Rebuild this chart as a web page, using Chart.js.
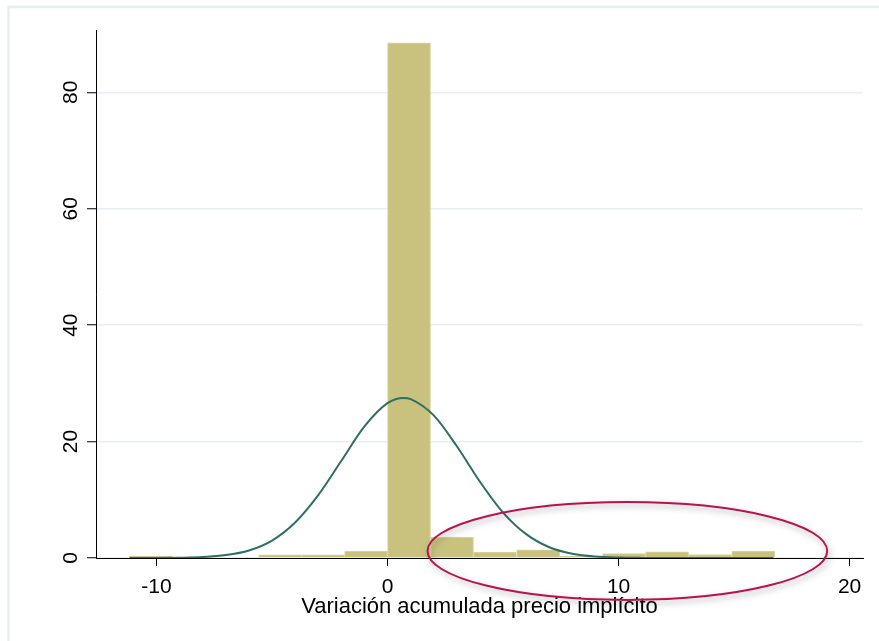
<!DOCTYPE html>
<html>
<head>
<meta charset="utf-8">
<script src="https://cdn.jsdelivr.net/npm/chart.js@4/dist/chart.umd.min.js"></script>
<style>
  html, body { margin: 0; padding: 0; background: #ffffff; }
  #wrap { position: relative; width: 879px; height: 641px; }
</style>
</head>
<body>
<div id="wrap"><canvas id="c" width="879" height="641"></canvas></div>
<script>
// ---- Data ----
// Histogram bin centers (bin width ≈ 1.86)
const binCenters = [-10.24, -8.38, -6.52, -4.65, -2.79, -0.93, 0.93, 2.79, 4.65, 6.52, 8.38, 10.24, 12.10, 13.96, 15.83];
// Percent in each bin
const binPercent = [0.35, 0, 0, 0.55, 0.55, 1.2, 88.5, 3.6, 1.0, 1.4, 0.3, 0.75, 1.05, 0.6, 1.2];
// Normal density overlay
const curveX = [-11.17, -10, -9, -8, -7, -6, -5, -4, -3, -2, -1, 0, 0.7, 1, 2, 3, 4, 5, 6, 7, 8, 9, 10, 11, 12, 13, 14, 15, 16.7];
const curveY = [0.0, 0.01, 0.05, 0.16, 0.5, 1.3, 3.0, 6.1, 10.8, 16.7, 22.6, 26.6, 27.5, 27.3, 24.5, 19.2, 13.1, 7.8, 4.1, 1.85, 0.73, 0.25, 0.08, 0.02, 0.0, 0.0, 0.0, 0.0, 0.0];
// Axis ticks
const xTicks = [-10, 0, 10, 20];
const yTicks = [0, 20, 40, 60, 80];
const xTitle = 'Variación acumulada precio implícito';
// Highlight ellipse (data units): center x, center y, radius x, radius y
const ellipseSpec = [10.38, 1.2, 8.65, 8.4];

const FONT = '"Liberation Sans", Arial, sans-serif';

const framePlugin = {
  id: 'frame',
  beforeDraw(chart) {
    const ctx = chart.ctx;
    ctx.save();
    ctx.fillStyle = '#ffffff';
    ctx.fillRect(0, 0, chart.width, chart.height);
    ctx.strokeStyle = '#E8EEEE';
    ctx.lineWidth = 2.5;
    ctx.strokeRect(8.5, 7, chart.width + 20, chart.height + 20);
    ctx.restore();
  }
};

const ellipsePlugin = {
  id: 'ellipse',
  afterDatasetsDraw(chart) {
    const xs = chart.scales.x, ys = chart.scales.y;
    const cx = xs.getPixelForValue(ellipseSpec[0]);
    const cy = ys.getPixelForValue(ellipseSpec[1]);
    const rx = Math.abs(xs.getPixelForValue(ellipseSpec[0] + ellipseSpec[2]) - cx);
    const ry = Math.abs(ys.getPixelForValue(ellipseSpec[1] + ellipseSpec[3]) - cy);
    const ctx = chart.ctx;
    ctx.save();
    ctx.shadowColor = 'rgba(0,0,0,0.35)';
    ctx.shadowBlur = 6;
    ctx.shadowOffsetX = 2;
    ctx.shadowOffsetY = 3;
    ctx.strokeStyle = '#BA1250';
    ctx.lineWidth = 2;
    ctx.beginPath();
    ctx.ellipse(cx, cy, rx, ry, 0, 0, Math.PI * 2);
    ctx.stroke();
    ctx.restore();
  }
};

new Chart(document.getElementById('c'), {
  data: {
    datasets: [
      {
        type: 'line',
        data: curveX.map((x, i) => ({ x, y: curveY[i] })),
        borderColor: '#2D6E66',
        borderWidth: 2,
        pointRadius: 0,
        cubicInterpolationMode: 'monotone',
        fill: false,
        order: 0
      },
      {
        type: 'bar',
        data: binCenters.map((x, i) => ({ x, y: binPercent[i] })),
        backgroundColor: '#C9C27F',
        borderColor: '#D9D4A2',
        borderWidth: 1,
        borderSkipped: 'bottom',
        barPercentage: 1,
        categoryPercentage: 1,
        order: 1
      }
    ]
  },
  options: {
    responsive: false,
    animation: false,
    events: [],
    layout: { padding: { top: 30, right: 16, bottom: 0, left: 0 } },
    plugins: { legend: { display: false }, tooltip: { enabled: false } },
    scales: {
      x: {
        type: 'linear',
        min: -12.62,
        max: 20.58,
        offset: false,
        afterBuildTicks(s) { s.ticks = xTicks.map(v => ({ value: v })); },
        afterFit(s) { s.height = 83; },
        grid: { display: true, offset: false, drawOnChartArea: false, drawTicks: true, tickLength: 8, tickColor: '#000', tickWidth: 1 },
        border: { display: true, color: '#000', width: 1 },
        ticks: { color: '#000', font: { family: FONT, size: 21 }, padding: 9, maxRotation: 0, autoSkip: false },
        title: { display: true, text: xTitle, color: '#000', font: { family: FONT, size: 22 }, padding: { top: 0, bottom: 21 } }
      },
      y: {
        type: 'linear',
        min: 0,
        max: 90.7,
        afterBuildTicks(s) { s.ticks = yTicks.map(v => ({ value: v })); },
        afterFit(s) { s.width = 96; },
        grid: { display: true, offset: false, drawOnChartArea: true, color: '#E6EFF1', lineWidth: 1.5, drawTicks: true, tickLength: 9, tickColor: '#000', tickWidth: 1 },
        border: { display: true, color: '#000', width: 1 },
        ticks: { color: '#000', font: { family: FONT, size: 21 }, padding: 4, minRotation: 90, maxRotation: 90, crossAlign: 'center', autoSkip: false }
      }
    }
  },
  plugins: [framePlugin, ellipsePlugin]
});
</script>
</body>
</html>
